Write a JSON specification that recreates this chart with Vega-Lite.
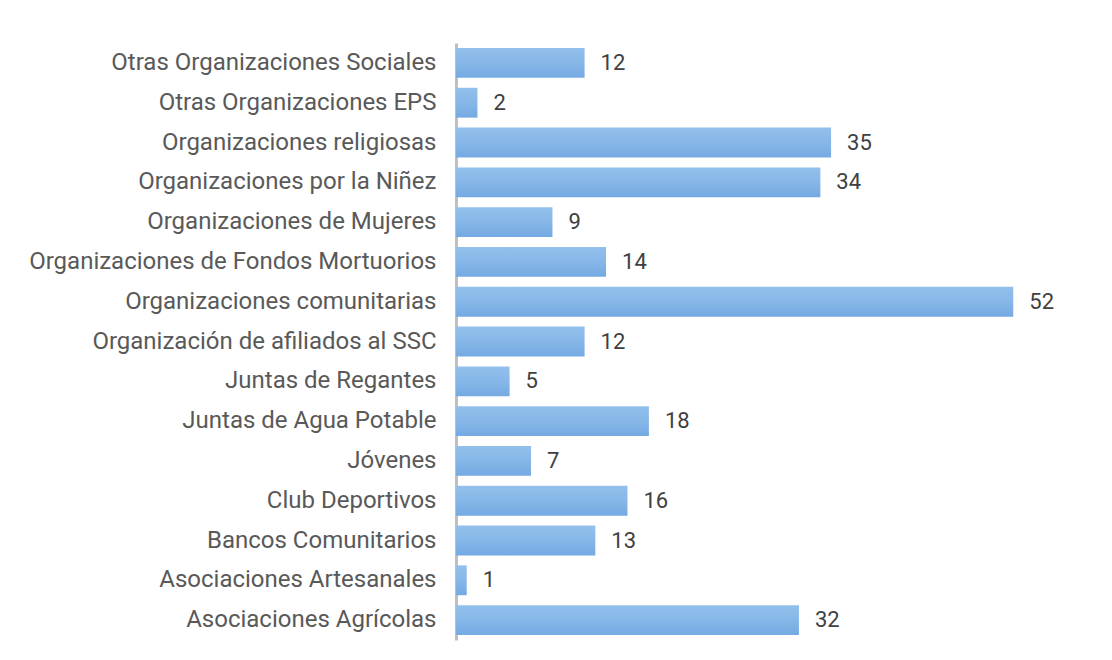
{
  "$schema": "https://vega.github.io/schema/vega-lite/v6.json",
  "width": 643,
  "height": 597,
  "padding": {"left": 28, "top": 43, "right": 5, "bottom": 5},
  "background": "white",
  "config": {"view": {"stroke": null}, "font": "Roboto"},
  "data": {
    "values": [
      {"cat": "Otras Organizaciones Sociales", "n": 12},
      {"cat": "Otras Organizaciones EPS", "n": 2},
      {"cat": "Organizaciones religiosas", "n": 35},
      {"cat": "Organizaciones por la Niñez", "n": 34},
      {"cat": "Organizaciones de Mujeres", "n": 9},
      {"cat": "Organizaciones de Fondos Mortuorios", "n": 14},
      {"cat": "Organizaciones comunitarias", "n": 52},
      {"cat": "Organización de afiliados al SSC", "n": 12},
      {"cat": "Juntas de Regantes", "n": 5},
      {"cat": "Juntas de Agua Potable", "n": 18},
      {"cat": "Jóvenes", "n": 7},
      {"cat": "Club Deportivos", "n": 16},
      {"cat": "Bancos Comunitarios", "n": 13},
      {"cat": "Asociaciones Artesanales", "n": 1},
      {"cat": "Asociaciones Agrícolas", "n": 32}
    ]
  },
  "encoding": {
    "y": {"field": "cat", "type": "nominal", "sort": null,
      "scale": {"paddingInner": 0.25, "paddingOuter": 0.125},
      "axis": {"title": null, "ticks": false, "domainColor": "#bfbfbf", "domainWidth": 3,
        "labelFontSize": 24, "labelColor": "#595959", "labelPadding": 20, "labelLimit": 600}},
    "x": {"field": "n", "type": "quantitative", "scale": {"domain": [0, 60], "nice": false}, "axis": null}
  },
  "layer": [
    {"mark": {"type": "bar", "fill": {"gradient": "linear", "x1": 0, "y1": 0, "x2": 0, "y2": 1,
        "stops": [{"offset": 0, "color": "#93c0ec"}, {"offset": 0.5, "color": "#86b7e8"}, {"offset": 1, "color": "#74a9e2"}]}}},
    {"mark": {"type": "text", "align": "left", "dx": 16, "fontSize": 22, "color": "#404040"},
     "encoding": {"text": {"field": "n", "type": "quantitative"}}}
  ]
}
